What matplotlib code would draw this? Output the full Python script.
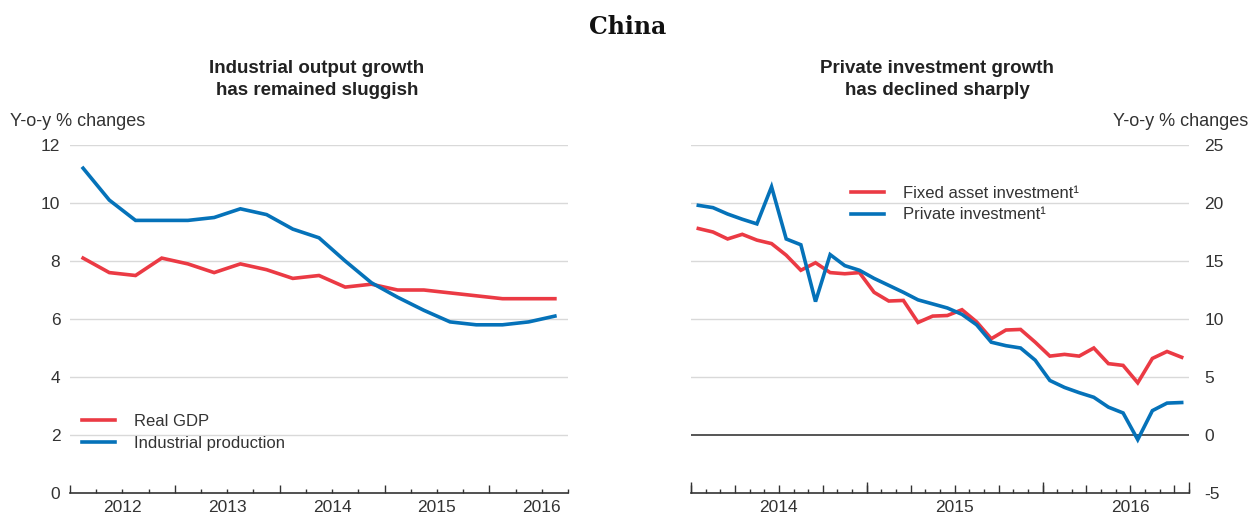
import numpy as np
import matplotlib
matplotlib.use("Agg")
import matplotlib.pyplot as plt
from matplotlib.ticker import FixedLocator, NullFormatter

plt.rcParams['font.family'] = ['Liberation Sans', 'DejaVu Sans']
plt.rcParams['axes.unicode_minus'] = False

# Data: left panel, quarterly, 2012 Q1 - 2016 Q3
real_gdp = [8.1, 7.6, 7.5, 8.1, 7.9, 7.6, 7.9, 7.7, 7.4, 7.5,
            7.1, 7.2, 7.0, 7.0, 6.9, 6.8, 6.7, 6.7, 6.7]
ind_prod = [11.2, 10.1, 9.4, 9.4, 9.4, 9.5, 9.8, 9.6, 9.1, 8.8,
            8.0, 7.25, 6.75, 6.3, 5.9, 5.8, 5.8, 5.9, 6.1]

# Data: right panel, monthly, Jan 2014 - Oct 2016
fixed_asset = [17.8, 17.5, 16.9, 17.3, 16.8, 16.5, 15.5, 14.2, 14.85, 14.0,
               13.9, 14.0, 12.3, 11.55, 11.6, 9.7, 10.25, 10.3, 10.8, 9.75,
               8.3, 9.05, 9.1, 8.0, 6.8, 6.95, 6.8, 7.5, 6.15, 6.0,
               4.5, 6.6, 7.2, 6.7]
private_inv = [19.8, 19.6, 19.05, 18.6, 18.2, 21.4, 16.9, 16.4, 11.5, 15.55,
               14.6, 14.2, 13.5, 12.9, 12.3, 11.65, 11.3, 10.95, 10.4, 9.5,
               8.0, 7.7, 7.5, 6.45, 4.7, 4.1, 3.65, 3.25, 2.4, 1.9,
               -0.4, 2.1, 2.75, 2.8]

years_left = [2012, 2013, 2014, 2015, 2016]
years_right = [2014, 2015, 2016]

red = "#EB3A44"
blue = "#0572B9"
txt = "#333333"
grid_c = "#d9d9d9"

xq = 2012 + (np.arange(len(real_gdp)) + 0.5) / 4
xm = 2014 + (np.arange(len(fixed_asset)) + 0.5) / 12

fig = plt.figure(figsize=(12.51, 5.13), dpi=100)
W, H = 1251, 513

axL = fig.add_axes([70 / W, 20 / H, 498 / W, 348 / H])
axR = fig.add_axes([691 / W, 20 / H, 498 / W, 348 / H])

# ---- left panel
axL.plot(xq, real_gdp, color=red, lw=2.6, label="Real GDP", solid_joinstyle="miter")
axL.plot(xq, ind_prod, color=blue, lw=2.6, label="Industrial production", solid_joinstyle="miter")
axL.set_xlim(2012, 2016.75)
axL.set_ylim(0, 12)
axL.set_yticks([0, 2, 4, 6, 8, 10, 12])
for v in [2, 4, 6, 8, 10, 12]:
    axL.axhline(v, color=grid_c, lw=1, zorder=0)
axL.xaxis.set_major_locator(FixedLocator(np.arange(2012, 2017)))
axL.xaxis.set_minor_locator(FixedLocator(np.arange(2012, 2016.76, 0.25)))
axL.xaxis.set_major_formatter(NullFormatter())
axL.tick_params(axis="x", which="major", direction="in", length=6, width=1, color=txt)
axL.tick_params(axis="x", which="minor", direction="in", length=3, width=1, color=txt)
axL.tick_params(axis="y", length=0, pad=7, labelsize=12.5, labelcolor=txt)
for y in years_left:
    axL.text(y + 0.5, -0.02, str(y), transform=axL.get_xaxis_transform(),
             ha="center", va="top", fontsize=12.5, color=txt)
axL.legend(loc="center left", bbox_to_anchor=(0.024, 0.174), frameon=False,
           fontsize=12, handlelength=2.0, handletextpad=1.1, labelspacing=0.4,
           borderpad=0, borderaxespad=0, labelcolor=txt)

# ---- right panel
axR.plot(xm, fixed_asset, color=red, lw=2.6, label="Fixed asset investment¹", solid_joinstyle="miter")
axR.plot(xm, private_inv, color=blue, lw=2.6, label="Private investment¹", solid_joinstyle="miter")
axR.set_xlim(2014, 2014 + 34 / 12)
axR.set_ylim(-5, 25)
axR.set_yticks([-5, 0, 5, 10, 15, 20, 25])
for v in [5, 10, 15, 20, 25]:
    axR.axhline(v, color=grid_c, lw=1, zorder=0)
axR.axhline(0, color="#555555", lw=1.4, zorder=1)
axR.yaxis.tick_right()
axR.xaxis.set_major_locator(FixedLocator(np.arange(2014, 2016.9, 0.25)))
axR.xaxis.set_minor_locator(FixedLocator(np.arange(2014, 2016.84, 1 / 12)))
axR.xaxis.set_major_formatter(NullFormatter())
axR.tick_params(axis="x", which="major", direction="in", length=5.5, width=1, color=txt)
axR.tick_params(axis="x", which="minor", direction="in", length=2.8, width=1, color=txt)
axR.tick_params(axis="y", length=0, pad=11, labelsize=12.5, labelcolor=txt)
sec = axR.secondary_xaxis("bottom")
sec.set_xticks(years_right + [2014 + 34 / 12])
sec.xaxis.set_major_formatter(NullFormatter())
sec.tick_params(direction="in", length=8, width=1, color=txt)
sec.spines["bottom"].set_visible(False)
for y in years_right:
    axR.text(y + 0.5, -0.02, str(y), transform=axR.get_xaxis_transform(),
             ha="center", va="top", fontsize=12.5, color=txt)
axR.legend(loc="center left", bbox_to_anchor=(0.321, 0.83), frameon=False,
           fontsize=12, handlelength=2.0, handletextpad=1.1, labelspacing=0.4,
           borderpad=0, borderaxespad=0, labelcolor=txt)

for ax in (axL, axR):
    for s in ["top", "left", "right"]:
        ax.spines[s].set_visible(False)
    ax.spines["bottom"].set_color(txt)
    ax.spines["bottom"].set_linewidth(1.2)
    ax.set_facecolor("none")

# titles
fig.text(628 / W, 1 - 27 / H, "China", ha="center", va="center",
         fontsize=17, fontweight="bold", family="DejaVu Serif", color="#111111")
fig.text(317 / W, 1 - 79.5 / H, "Industrial output growth\nhas remained sluggish",
         ha="center", va="center", fontsize=13.5, fontweight="bold", color="#222222", linespacing=1.35)
fig.text(937 / W, 1 - 79.5 / H, "Private investment growth\nhas declined sharply",
         ha="center", va="center", fontsize=13.5, fontweight="bold", color="#222222", linespacing=1.35)
fig.text(10 / W, 1 - 121 / H, "Y-o-y % changes", ha="left", va="center", fontsize=13, color=txt)
fig.text(1248 / W, 1 - 121 / H, "Y-o-y % changes", ha="right", va="center", fontsize=13, color=txt)

fig.savefig("out.png", dpi=100)
